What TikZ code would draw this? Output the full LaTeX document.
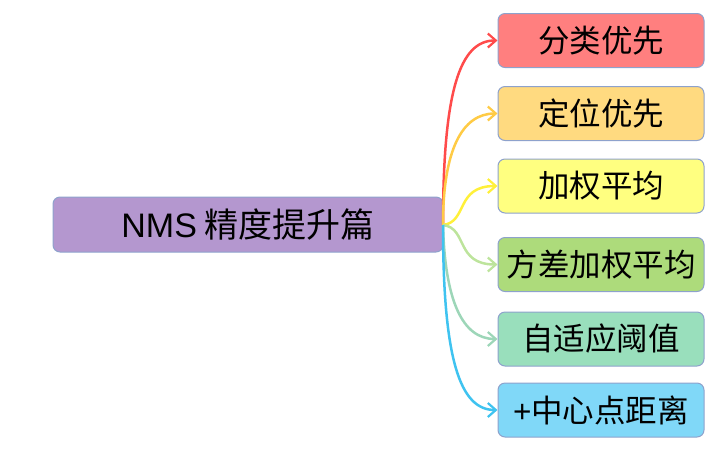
\documentclass[tikz,border=0pt]{standalone}
\usepackage{fontspec}
\setmainfont{Noto Sans CJK SC}
\newfontfamily\latinfont{Liberation Sans}
\usetikzlibrary{arrows.meta}
\definecolor{bordc}{HTML}{8EA2CC}
\definecolor{fmain}{HTML}{B497CF}
\definecolor{fred}{HTML}{FF7F7F}
\definecolor{forange}{HTML}{FFDA80}
\definecolor{fyellow}{HTML}{FFFF80}
\definecolor{fgreen}{HTML}{ADDB7B}
\definecolor{fteal}{HTML}{99DFBC}
\definecolor{fblue}{HTML}{80D8F8}
\definecolor{lred}{HTML}{FF4B4B}
\definecolor{lorange}{HTML}{FFCB45}
\definecolor{lyellow}{HTML}{FFF03A}
\definecolor{lgreen}{HTML}{BDE49C}
\definecolor{lteal}{HTML}{9DD6B8}
\definecolor{lblue}{HTML}{3FC3F0}
\tikzset{
  box/.style={draw=bordc, line width=1pt, rounded corners=7pt, inner sep=0pt, font=\fontsize{31.5}{34}\selectfont, text=black},
  mainbox/.style={box, fill=fmain, minimum width=390pt, minimum height=55pt, font=\fontsize{34}{36}\selectfont},
  subbox/.style={box, minimum width=206pt, minimum height=54pt},
  conn/.style={line width=2.5pt, -{Straight Barb[length=8pt,width=14pt,line width=2.2pt]}}
}
\begin{document}
\begin{tikzpicture}[x=1pt,y=-1pt]
\useasboundingbox (0,0) rectangle (721,451);
\node[mainbox] (m) at (248,224.5) {{\latinfont NMS} 精度提升篇};
\node[subbox, fill=fred]    (a) at (601,40.5)  {分类优先};
\node[subbox, fill=forange] (b) at (601,113.5) {定位优先};
\node[subbox, fill=fyellow] (c) at (601,186)   {加权平均};
\node[subbox, fill=fgreen]  (d) at (601,264.5) {方差加权平均};
\node[subbox, fill=fteal]   (e) at (601,339)   {自适应阈值};
\node[subbox, fill=fblue]   (f) at (601,410)   {{\latinfont +}中心点距离};
\coordinate (s) at (443,225);
\draw[conn, lred]    (s) .. controls (443,90)  and (460,40.5) .. (a.west);
\draw[conn, lorange] (s) .. controls (443,150) and (462,113.5) .. (b.west);
\draw[conn, lyellow] (s) .. controls (468,222) and (455,186) .. (c.west);
\draw[conn, lgreen]  (s) .. controls (468,228) and (455,264.5) .. (d.west);
\draw[conn, lteal]   (s) .. controls (445,300) and (462,339) .. (e.west);
\draw[conn, lblue]   (s) .. controls (443,360) and (460,410) .. (f.west);
\end{tikzpicture}
\end{document}
